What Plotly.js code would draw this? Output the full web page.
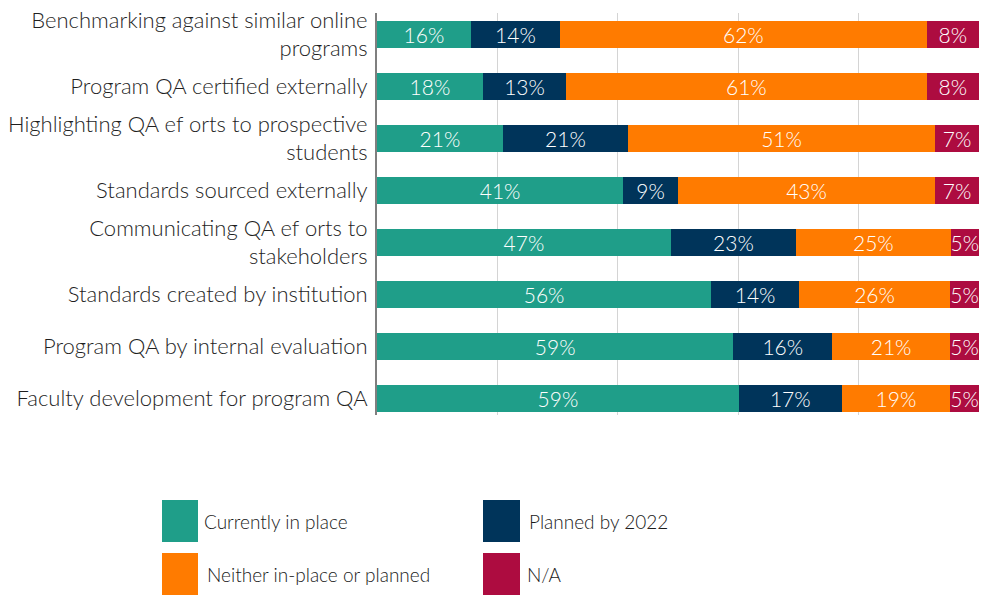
<!DOCTYPE html>
<html>
<head>
<meta charset="utf-8">
<script src="https://cdn.plot.ly/plotly-3.0.1.min.js"></script>
<style>html,body{margin:0;padding:0;background:#fff;}#chart{width:982px;height:596px;}</style>
</head>
<body>
<div id="chart"></div>
<script>
// ---- Data (top-to-bottom order) ----
const categories = [
  'Benchmarking against similar online<br>programs',
  'Program QA certified externally',
  'Highlighting QA ef orts to prospective<br>students',
  'Standards sourced externally',
  'Communicating QA ef orts to<br>stakeholders',
  'Standards created by institution',
  'Program QA by internal evaluation',
  'Faculty development for program QA'
];
// segment shares as drawn (percent of respondents, each row sums to 100)
const currentlyInPlace = [15.6, 17.6, 20.9, 40.9, 48.8, 55.5, 59.2, 60.1];
const plannedBy2022   = [14.8, 13.8, 20.8, 9.1, 20.8, 14.6, 16.4, 17.1];
const neitherPlanned  = [60.9, 59.9, 51.0, 42.7, 25.7, 25.1, 19.6, 18.0];
const notApplicable   = [8.7, 8.7, 7.3, 7.3, 4.7, 4.8, 4.8, 4.8];
// printed data labels
const currentlyLabels = ['16%', '18%', '21%', '41%', '47%', '56%', '59%', '59%'];
const plannedLabels   = ['14%', '13%', '21%', '9%', '23%', '14%', '16%', '17%'];
const neitherLabels   = ['62%', '61%', '51%', '43%', '25%', '26%', '21%', '19%'];
const naLabels        = ['8%', '8%', '7%', '7%', '5%', '5%', '5%', '5%'];
const seriesNames = ['Currently in place', 'Planned by 2022', 'Neither in-place or planned', 'N/A'];
const seriesColors = ['#1f9e89', '#00345a', '#ff7b00', '#ad0c40'];

const FONT = 'Lato, "Open Sans", sans-serif';
const W = 982, H = 596;
const plotL = 377, plotR = 979, plotT = 13, plotB = 415;

const allSeries = [currentlyInPlace, plannedBy2022, neitherPlanned, notApplicable];
const allLabels = [currentlyLabels, plannedLabels, neitherLabels, naLabels];
const traces = allSeries.map((vals, i) => ({
  type: 'bar',
  orientation: 'h',
  name: seriesNames[i],
  y: categories,
  x: vals,
  text: allLabels[i],
  textposition: 'inside',
  insidetextanchor: 'middle',
  constraintext: 'none',
  textfont: {family: FONT, size: 21, color: '#ffffff', weight: 300},
  marker: {color: seriesColors[i], line: {width: 0}},
  hoverinfo: 'skip',
  showlegend: false
}));

// helpers to convert pixel positions to paper coords for the custom legend
const px = x => (x - plotL) / (plotR - plotL);
const py = y => (plotB - y) / (plotB - plotT);

const legendItems = [
  {box: [162, 500, 198, 542], tx: 202, ty: 521},
  {box: [483, 500, 520, 542], tx: 527, ty: 521},
  {box: [162, 553, 198, 595], tx: 205, ty: 574},
  {box: [483, 553, 520, 595], tx: 525, ty: 574}
];
const shapes = legendItems.map((it, i) => ({
  type: 'rect', xref: 'paper', yref: 'paper',
  x0: px(it.box[0]), x1: px(it.box[2]), y0: py(it.box[3]), y1: py(it.box[1]),
  fillcolor: seriesColors[i], line: {width: 0}
}));
const annotations = legendItems.map((it, i) => ({
  xref: 'paper', yref: 'paper', x: px(it.tx), y: py(it.ty),
  xanchor: 'left', yanchor: 'middle', showarrow: false,
  text: seriesNames[i],
  font: {family: FONT, size: 19, color: '#1a1a1a', weight: 300}
}));

const layout = {
  width: W, height: H,
  barmode: 'stack',
  bargap: 0.48,
  paper_bgcolor: '#ffffff', plot_bgcolor: '#ffffff',
  margin: {l: plotL, r: W - plotR, t: plotT, b: H - plotB, pad: 0},
  font: {family: FONT, color: '#262626'},
  xaxis: {
    range: [0, 100], dtick: 20, showticklabels: false,
    showgrid: true, gridcolor: '#d4d4d4', gridwidth: 1.3,
    zeroline: false, showline: false, fixedrange: true
  },
  yaxis: {
    type: 'category', range: [7.32, -0.41],
    showgrid: false, zeroline: false,
    showline: true, linecolor: '#7f7f7f', linewidth: 2,
    ticks: '', ticklabelstandoff: 3,
    tickfont: {family: FONT, size: 22, color: '#1f1f1f', weight: 300},
    fixedrange: true
  },
  shapes: shapes,
  annotations: annotations
};

Plotly.newPlot('chart', traces, layout, {staticPlot: true, displayModeBar: false});
</script>
</body>
</html>
